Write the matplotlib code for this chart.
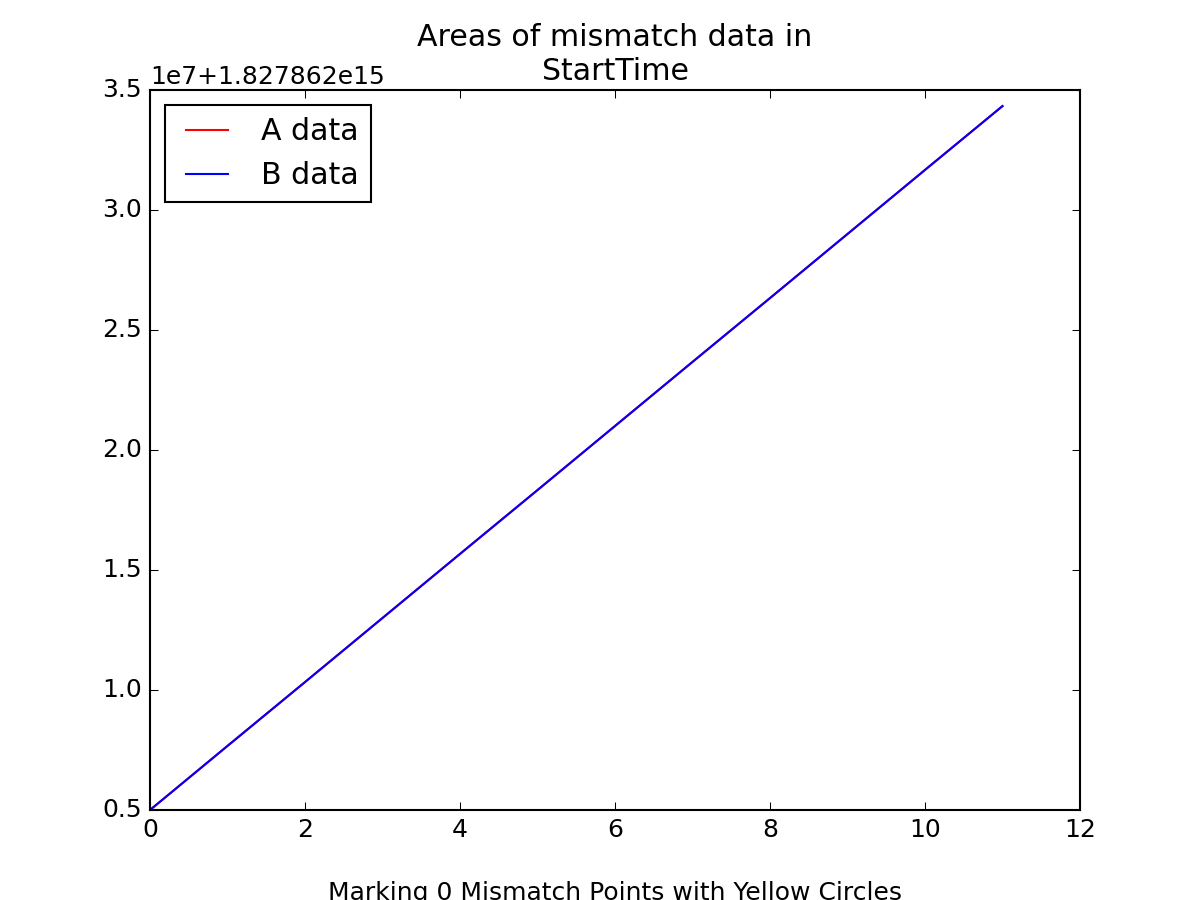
import matplotlib
matplotlib.use("Agg")
import matplotlib.pyplot as plt

plt.style.use("classic")

offset = 1.827862e15
x_vals = [0, 1, 2, 3, 4, 5, 6, 7, 8, 9, 10, 11]
a_vals = [0.500, 0.767, 1.033, 1.300, 1.567, 1.833, 2.100, 2.367, 2.633, 2.900, 3.167, 3.433]
b_vals = [0.500, 0.767, 1.033, 1.300, 1.567, 1.833, 2.100, 2.367, 2.633, 2.900, 3.167, 3.433]
n_mismatch = 0

a_y = [offset + v * 1e7 for v in a_vals]
b_y = [offset + v * 1e7 for v in b_vals]

fig = plt.figure(figsize=(8, 6), dpi=150)
ax = fig.add_subplot(111)
ax.plot(x_vals, a_y, color="red", label="A data")
ax.plot(x_vals, b_y, color="blue", label="B data")
ax.set_xlim(0, 12)
ax.set_ylim(offset + 0.5e7, offset + 3.5e7)
ax.set_title("Areas of mismatch data in\nStartTime")
ax.set_xlabel("\nMarking %d Mismatch Points with Yellow Circles" % n_mismatch)
ax.legend(loc="upper left")
fig.savefig("out.png", dpi=150)
